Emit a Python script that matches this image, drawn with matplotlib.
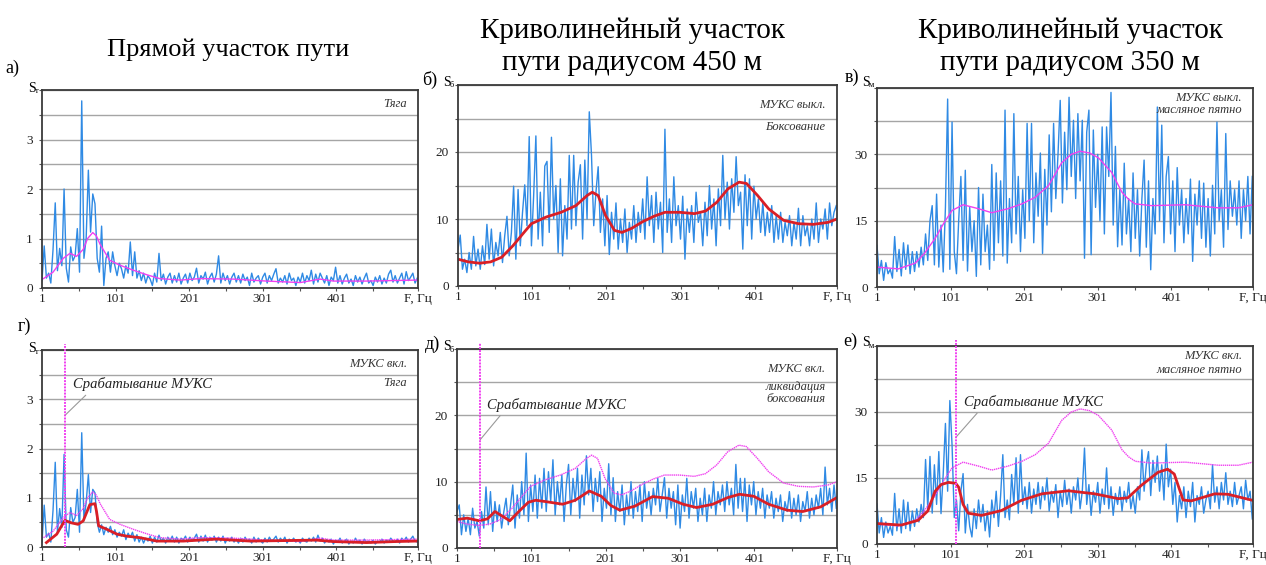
import matplotlib
matplotlib.use('Agg')
import matplotlib.pyplot as plt
import numpy as np

plt.rcParams['font.family'] = ['Liberation Serif', 'DejaVu Serif']

W, H = 1266, 565

# частотная сетка спектров, Гц
freq = np.arange(1, 512, 3)

# а) прямой участок, тяга (S_т)
s_a = [0.15, 0.85, 0.2, 0.3, 0.1, 0.78, 1.72, 0.35, 0.8, 0.45,
       2.0, 0.4, 0.12, 0.83, 0.55, 0.65, 1.2, 0.32, 3.78, 0.6,
       1.0, 2.38, 1.13, 1.9, 1.7, 0.6, 0.32, 1.25, 0.05, 0.6,
       0.73, 0.32, 0.73, 0.45, 0.25, 0.5, 0.39, 0.2, 0.45, 0.3,
       0.93, 0.25, 0.73, 0.2, 0.35, 0.15, 0.3, 0.1, 0.25, 0.18,
       0.05, 0.3, 0.12, 0.7, 0.15, 0.28, 0.08, 0.22, 0.3, 0.1,
       0.25, 0.12, 0.3, 0.08, 0.2, 0.28, 0.1, 0.3, 0.15, 0.22,
       0.4, 0.1, 0.25, 0.18, 0.32, 0.08, 0.22, 0.3, 0.12, 0.28,
       0.65, 0.1, 0.3, 0.15, 0.25, 0.08, 0.22, 0.3, 0.12, 0.25,
       0.1, 0.28, 0.15, 0.22, 0.05, 0.3, 0.12, 0.2, 0.25, 0.08,
       0.22, 0.3, 0.1, 0.25, 0.15, 0.28, 0.39, 0.1, 0.2, 0.12,
       0.25, 0.08, 0.3, 0.15, 0.2, 0.05, 0.22, 0.12, 0.3, 0.1,
       0.25, 0.15, 0.36, 0.08, 0.28, 0.12, 0.3, 0.2, 0.1, 0.25,
       0.05, 0.22, 0.15, 0.42, 0.1, 0.25, 0.08, 0.2, 0.28, 0.1,
       0.18, 0.05, 0.25, 0.12, 0.22, 0.08, 0.2, 0.3, 0.1, 0.15,
       0.05, 0.22, 0.12, 0.25, 0.08, 0.2, 0.1, 0.28, 0.36, 0.12,
       0.25, 0.1, 0.2, 0.3, 0.08, 0.33, 0.15, 0.22, 0.3, 0.1,
       0.2]
# огибающая (розовая) для тяги без МУКС
f_env_a = [3, 16, 30, 39, 48, 57, 63, 70, 75, 80, 93, 107, 125, 143, 161, 189, 216, 261, 306, 352, 379, 397, 442, 511]
env_a = [0.19, 0.32, 0.6, 0.7, 0.64, 0.78, 1.0, 1.12, 1.05, 0.88, 0.56, 0.46, 0.36, 0.27, 0.19, 0.16, 0.19, 0.18, 0.14, 0.11, 0.18, 0.14, 0.14, 0.16]

# б) кривая 450 м, боксование (S_б)
s_b = [5.5, 7.6, 2.5, 4.0, 2.0, 5.0, 2.5, 7.4, 3.0, 5.5,
       2.5, 6.0, 3.2, 9.2, 4.0, 8.5, 3.0, 6.5, 4.5, 8.0,
       3.5, 7.5, 10.4, 4.5, 8.0, 14.9, 4.0, 14.4, 6.0, 11.0,
       15.1, 9.0, 22.3, 6.0, 13.5, 22.4, 7.0, 14.0, 6.0, 17.9,
       18.6, 8.0, 22.2, 10.0, 15.0, 5.0, 16.0, 4.5, 12.0, 7.0,
       19.5, 8.5, 19.5, 9.0, 15.5, 18.1, 7.0, 18.8, 10.0, 26.0,
       19.5, 9.0, 14.0, 17.8, 8.0, 13.0, 6.0, 13.5, 4.7, 11.0,
       7.0, 12.4, 5.5, 10.0, 6.5, 11.5, 5.0, 9.5, 7.0, 12.0,
       6.5, 11.0, 8.0, 13.0, 7.0, 16.3, 9.0, 13.5, 6.5, 14.0,
       8.5, 12.5, 5.0, 23.4, 8.0, 13.0, 6.5, 16.3, 9.0, 12.0,
       7.0, 13.4, 4.0, 11.5, 8.0, 12.0, 6.5, 14.0, 9.5, 11.0,
       6.0, 12.5, 7.5, 15.0, 8.5, 13.0, 6.0, 14.5, 9.0, 19.5,
       10.0, 15.5, 8.5, 16.0, 11.0, 19.3, 12.0, 14.0, 5.5, 16.6,
       9.0, 16.0, 7.0, 14.9, 10.0, 13.0, 8.0, 12.5, 7.5, 11.0,
       8.0, 12.0, 6.5, 10.5, 7.0, 11.0, 6.5, 9.5, 7.5, 10.5,
       6.0, 9.5, 7.0, 11.6, 6.0, 10.5, 7.5, 9.0, 6.0, 10.0,
       7.0, 12.4, 6.5, 10.0, 8.5, 11.5, 7.0, 12.4, 9.0, 11.0,
       12.0]
f_env_b = [1, 15, 30, 45, 60, 75, 90, 100, 120, 140, 160, 175, 182, 190, 200, 212, 222, 235, 250, 265, 280, 300,
           320, 335, 350, 365, 380, 390, 405, 420, 440, 460, 480, 500, 512]
env_b = [4.0, 3.6, 3.4, 3.6, 4.3, 6.0, 8.0, 9.3, 10.3, 11.0, 12.0, 13.5, 14.0, 13.5, 10.5, 8.3, 8.0, 8.6, 9.6, 10.4, 11.0, 11.0,
         10.8, 11.2, 12.5, 14.5, 15.5, 15.3, 13.5, 11.5, 9.8, 9.3, 9.2, 9.5, 10.0]

# в) кривая 350 м, масляное пятно (S_м)
s_v = [9.4, 3.0, 6.0, 1.5, 5.5, 3.0, 4.0, 2.0, 11.4, 3.5,
       8.5, 2.5, 10.0, 4.0, 9.5, 3.0, 8.0, 3.5, 8.0, 4.5,
       9.0, 5.0, 12.0, 6.0, 15.0, 18.4, 5.0, 21.0, 4.5, 14.0,
       3.4, 18.0, 42.5, 4.0, 37.3, 8.0, 3.0, 15.0, 25.0, 6.0,
       26.4, 3.6, 18.0, 8.0, 15.0, 2.4, 22.5, 5.0, 21.0, 8.0,
       14.0, 4.0, 27.7, 6.0, 25.8, 10.0, 24.0, 7.0, 40.0, 5.4,
       20.0, 10.0, 39.2, 12.0, 25.0, 8.0, 22.0, 11.0, 37.0, 15.0,
       37.0, 10.0, 25.8, 16.0, 30.3, 7.6, 26.6, 14.0, 34.4, 17.0,
       37.0, 20.0, 30.0, 42.2, 19.0, 35.0, 22.0, 42.9, 25.0, 37.7,
       20.0, 39.2, 24.0, 37.7, 6.5, 35.0, 40.0, 7.3, 35.5, 18.0,
       30.0, 15.0, 36.2, 12.0, 36.2, 25.0, 44.0, 14.0, 31.8, 9.1,
       22.0, 9.5, 28.0, 12.0, 20.0, 8.0, 25.8, 11.0, 22.0, 7.0,
       20.0, 28.7, 9.0, 24.0, 3.9, 20.0, 12.0, 40.7, 15.0, 36.6,
       10.0, 25.0, 29.5, 12.0, 24.0, 8.0, 27.0, 14.0, 22.0, 10.0,
       20.0, 12.0, 24.4, 5.8, 21.0, 14.0, 24.0, 11.0, 23.5, 9.0,
       20.0, 7.0, 23.0, 12.0, 37.3, 15.0, 22.0, 9.0, 34.7, 13.0,
       24.0, 16.0, 22.0, 14.0, 24.0, 11.0, 22.0, 15.0, 25.0, 12.0,
       25.0]
f_env_v = [1, 30, 53, 65, 80, 92, 103, 118, 139, 157, 179, 198, 216, 234, 252, 265, 277, 290, 302, 320, 334, 343,
           352, 374, 420, 465, 492, 512]
env_v = [4.5, 4.1, 5.4, 7.5, 11.0, 14.5, 17.3, 18.6, 17.7, 16.8, 17.7, 18.8, 20.3, 22.9, 28.1, 30.0, 30.7, 30.3, 29.2, 25.9, 21.4, 19.8,
         18.8, 18.4, 18.6, 17.9, 17.9, 18.6]

# г) прямой участок, МУКС вкл.
s_g = [0.1, 0.85, 0.2, 0.28, 0.1, 0.75, 1.72, 0.3, 0.78, 0.4,
       1.88, 0.35, 0.2, 0.8, 0.5, 0.6, 1.17, 0.3, 2.32, 0.55,
       0.9, 1.47, 0.7, 1.17, 1.1, 0.5, 0.3, 0.45, 0.25, 0.4,
       0.3, 0.42, 0.25, 0.35, 0.2, 0.3, 0.22, 0.35, 0.15, 0.28,
       0.2, 0.3, 0.12, 0.25, 0.1, 0.2, 0.08, 0.18, 0.12, 0.22,
       0.08, 0.2, 0.1, 0.24, 0.12, 0.18, 0.08, 0.2, 0.12, 0.22,
       0.1, 0.2, 0.08, 0.18, 0.14, 0.22, 0.1, 0.2, 0.12, 0.18,
       0.26, 0.1, 0.22, 0.12, 0.24, 0.1, 0.2, 0.14, 0.22, 0.1,
       0.2, 0.12, 0.22, 0.08, 0.18, 0.12, 0.2, 0.1, 0.16, 0.08,
       0.18, 0.1, 0.2, 0.12, 0.16, 0.08, 0.2, 0.1, 0.18, 0.12,
       0.08, 0.18, 0.1, 0.2, 0.12, 0.16, 0.22, 0.1, 0.18, 0.12,
       0.2, 0.08, 0.16, 0.12, 0.18, 0.1, 0.15, 0.08, 0.18, 0.12,
       0.1, 0.18, 0.12, 0.2, 0.1, 0.24, 0.12, 0.18, 0.08, 0.15,
       0.1, 0.16, 0.06, 0.14, 0.1, 0.18, 0.08, 0.12, 0.16, 0.06,
       0.12, 0.08, 0.18, 0.1, 0.14, 0.06, 0.16, 0.1, 0.12, 0.08,
       0.14, 0.06, 0.12, 0.1, 0.16, 0.08, 0.14, 0.1, 0.18, 0.12,
       0.1, 0.16, 0.08, 0.18, 0.12, 0.2, 0.1, 0.16, 0.22, 0.12,
       0.1]
f_red_g = [7, 21, 32, 41, 50, 57, 66, 73, 75, 78, 89, 103, 116, 134, 157, 193, 238, 284, 330, 374, 397, 420, 442, 480, 510]
red_g = [0.09, 0.26, 0.54, 0.49, 0.46, 0.53, 0.86, 0.88, 0.73, 0.43, 0.36, 0.26, 0.22, 0.19, 0.12, 0.12, 0.16, 0.12, 0.13, 0.14,
         0.11, 0.1, 0.09, 0.11, 0.12]

# д) кривая 450 м, МУКС вкл.
s_d = [5.5, 6.5, 2.0, 5.0, 2.5, 4.5, 2.0, 6.0, 3.0, 4.0,
       1.8, 5.5, 3.0, 9.2, 3.5, 8.5, 2.5, 7.0, 4.0, 6.5,
       3.0, 5.5, 7.5, 3.5, 6.5, 9.5, 3.0, 8.0, 4.5, 10.0,
       5.0, 14.3, 4.0, 9.5, 5.5, 11.0, 4.5, 10.5, 6.0, 12.0,
       5.5, 11.5, 7.0, 13.3, 5.0, 10.0, 6.5, 11.0, 4.0, 9.5,
       12.6, 5.0, 10.5, 7.0, 12.0, 4.5, 11.0, 6.5, 13.9, 8.0,
       12.0, 5.5, 10.5, 7.0, 11.5, 4.0, 9.0, 6.0, 12.7, 5.0,
       10.6, 4.0, 8.5, 5.5, 9.5, 3.5, 8.0, 5.0, 10.0, 4.5,
       8.5, 5.5, 9.5, 4.0, 10.0, 6.0, 8.5, 5.0, 9.0, 6.5,
       10.5, 5.5, 8.0, 10.6, 4.5, 9.0, 6.0, 8.5, 3.5, 9.5,
       3.0, 8.0, 5.5, 10.5, 4.5, 8.5, 6.0, 9.0, 4.0, 7.5,
       5.0, 9.0, 4.0, 8.0, 6.0, 10.0, 5.0, 8.5, 6.5, 9.5,
       5.5, 10.0, 6.5, 9.0, 5.0, 12.6, 6.0, 10.5, 5.5, 10.5,
       4.0, 9.5, 6.5, 10.0, 5.0, 8.5, 6.0, 9.0, 4.5, 8.0,
       6.0, 8.5, 4.5, 7.5, 5.5, 8.0, 4.0, 7.0, 5.5, 8.5,
       4.5, 7.5, 5.0, 8.0, 4.0, 7.0, 5.5, 8.5, 4.5, 7.5,
       5.0, 8.0, 6.0, 9.0, 5.0, 12.2, 6.5, 9.0, 5.5, 9.5,
       6.0]
f_red_d = [1, 15, 31, 42, 52, 62, 72, 85, 97, 107, 120, 143, 160, 179, 195, 208, 220, 240, 264, 285, 305, 323, 345,
           365, 381, 400, 420, 445, 466, 490, 512]
red_d = [4.3, 4.5, 4.1, 4.4, 5.5, 4.8, 4.1, 5.6, 6.9, 7.2, 7.0, 6.6, 7.2, 8.6, 7.8, 6.4, 5.7, 6.3, 7.75, 7.5, 6.6, 6.1, 6.6,
         7.6, 8.1, 7.8, 6.6, 5.7, 5.5, 6.2, 7.6]

# е) кривая 350 м, МУКС вкл.
s_e = [9.1, 2.5, 6.0, 1.5, 5.0, 2.5, 4.0, 2.0, 11.5, 3.0,
       8.0, 2.5, 10.0, 3.5, 9.5, 3.0, 7.5, 4.0, 8.0, 5.0,
       9.0, 6.0, 19.2, 8.0, 19.9, 7.0, 18.0, 9.0, 21.0, 6.9,
       16.0, 27.4, 12.0, 32.6, 22.5, 6.0, 10.0, 3.0, 12.0, 16.0,
       2.5, 9.0, 4.0, 1.6, 8.0, 3.5, 10.0, 5.0, 9.0, 3.0,
       7.5, 1.6, 10.0, 6.0, 12.0, 4.0, 11.0, 20.3, 6.0, 10.0,
       5.5, 15.8, 9.0, 19.6, 7.0, 20.3, 9.0, 13.0, 8.0, 14.0,
       7.0, 12.5, 9.0, 14.0, 8.0, 13.0, 10.0, 15.0, 7.5, 12.0,
       9.5, 13.5, 6.0, 12.0, 8.5, 14.5, 9.0, 12.5, 7.0, 13.0,
       10.0, 15.0, 8.0, 12.0, 21.8, 9.0, 13.5, 6.5, 12.0, 9.5,
       14.0, 7.0, 12.5, 9.0, 17.3, 8.0, 13.0, 6.5, 11.5, 9.0,
       13.0, 7.5, 12.0, 9.5, 14.0, 8.0, 11.0, 7.0, 13.0, 10.0,
       21.4, 12.0, 18.0, 21.0, 11.0, 19.0, 14.0, 20.0, 12.0, 18.0,
       10.0, 22.7, 13.0, 17.0, 9.0, 14.0, 5.0, 11.0, 8.0, 13.0,
       6.0, 12.0, 8.5, 14.0, 5.0, 11.0, 9.0, 13.0, 7.0, 10.0,
       12.0, 8.0, 18.0, 9.5, 13.0, 8.0, 14.0, 10.0, 16.2, 9.0,
       12.0, 8.5, 14.0, 9.0, 11.0, 13.0, 8.0, 14.5, 10.0, 12.0,
       5.7]
f_red_e = [1, 34, 57, 70, 80, 88, 98, 108, 112, 118, 125, 143, 170, 197, 225, 261, 297, 329, 342, 360, 383, 396, 405,
           417, 428, 460, 478, 512]
red_e = [4.65, 4.3, 5.4, 7.5, 12.0, 13.5, 14.0, 13.8, 12.9, 9.0, 7.0, 6.5, 7.6, 9.9, 11.4, 12.1, 11.4, 10.3, 10.5, 13.3,
         16.3, 17.0, 15.9, 10.0, 9.8, 11.4, 11.3, 9.9]

# момент срабатывания МУКС, Гц
muks_g, muks_d, muks_e = 32, 32, 109

x_ticks = [1, 101, 201, 301, 401, 512]
x_labels = ['1', '101', '201', '301', '401', 'F, Гц']

BLUE = '#2f8ae4'
RED = '#d91f26'
MAG = '#f040f0'

fig = plt.figure(figsize=(W / 100, H / 100), dpi=100)


def fxy(x, y):
    return x / W, 1 - y / H


def make_ax(box, ymax, ystep, ymajor):
    l, t, r, b = box
    ax = fig.add_axes([l / W, 1 - b / H, (r - l) / W, (b - t) / H])
    ax.set_xlim(1, 512)
    ax.set_ylim(0, ymax)
    ax.set_yticks(ymajor)
    ax.set_yticks(np.arange(0, ymax + 0.001, ystep), minor=True)
    ax.set_xticks(x_ticks)
    ax.set_xticklabels(x_labels)
    ax.set_xticks([51, 151, 251, 351, 451], minor=True)
    ax.grid(axis='y', which='both', color='#a5a5a5', lw=1.0)
    ax.set_axisbelow(True)
    ax.tick_params(which='both', direction='out', length=2.5, width=0.8, color='#555555',
                   labelsize=9.5, labelcolor='#222222')
    ax.tick_params(axis='x', pad=1)
    ax.tick_params(axis='y', pad=4)
    for sp in ax.spines.values():
        sp.set_color('#3a3a3a')
        sp.set_linewidth(1.3)
    return ax


def ylab(x, y, sub):
    fig.text(*fxy(x, y), 'S', fontsize=10, ha='left', va='center')
    fig.text(*fxy(x + 7, y + 3), sub, fontsize=6, ha='left', va='center')


def note(ax, lines):
    for (txt, y) in lines:
        ax.text(0.97, y, txt, transform=ax.transAxes, ha='right', va='center',
                fontsize=9, style='italic', color='#333333')


def muks(ax, f0, y_hit, x_txt, y_txt):
    ax.axvline(f0, ymin=0, ymax=1.03, color=MAG, lw=1.4, ls=(0, (1, 0.6)), clip_on=False, zorder=4)
    ax.annotate('Срабатывание МУКС', xy=(f0, y_hit), xytext=(x_txt, y_txt),
                fontsize=10.5, style='italic', color='#222222', va='center', ha='left',
                arrowprops=dict(arrowstyle='-', color='#999999', lw=0.8, shrinkA=1, shrinkB=0,
                                relpos=(0.12, 0.0)))


# --- а)
ax = make_ax((42, 90, 418, 288), 4, 0.5, [0, 1, 2, 3])
ax.plot(freq, s_a, color=BLUE, lw=1.0)
ax.plot(f_env_a, env_a, color=MAG, lw=1.0)
note(ax, [('Тяга', 0.93)])

# --- б)
ax = make_ax((458, 85, 837, 286), 30, 5, [0, 10, 20])
ax.plot(freq, s_b, color=BLUE, lw=1.0)
ax.plot(f_env_b, env_b, color=RED, lw=2.0)
note(ax, [('МУКС выкл.', 0.9), ('Боксование', 0.79)])

# --- в)
ax = make_ax((877, 88, 1253, 287), 45, 7.5, [0, 15, 30])
ax.plot(freq, s_v, color=BLUE, lw=1.0)
ax.plot(f_env_v, env_v, color=MAG, lw=1.0)
note(ax, [('МУКС выкл.', 0.95), ('масляное пятно', 0.89)])

# --- г)
ax = make_ax((42, 350, 418, 547), 4, 0.5, [0, 1, 2, 3])
ax.plot(freq, s_g, color=BLUE, lw=1.0)
ax.plot(f_env_a, env_a, color=MAG, lw=1.0, ls=(0, (1, 0.5)))
ax.plot(f_red_g, red_g, color=RED, lw=2.0)
note(ax, [('МУКС вкл.', 0.93), ('Тяга', 0.83)])
muks(ax, muks_g, 2.67, 43, 3.3)

# --- д)
ax = make_ax((457, 349, 837, 548), 30, 5, [0, 10, 20])
ax.plot(freq, s_d, color=BLUE, lw=1.0)
ax.plot(f_env_b, env_b, color=MAG, lw=1.0, ls=(0, (1, 0.5)))
ax.plot(f_red_d, red_d, color=RED, lw=2.0)
note(ax, [('МУКС вкл.', 0.9), ('ликвидация', 0.81), ('боксования', 0.75)])
muks(ax, muks_d, 16.3, 41, 21.6)

# --- е)
ax = make_ax((877, 346, 1253, 544), 45, 7.5, [0, 15, 30])
ax.plot(freq, s_e, color=BLUE, lw=1.0)
ax.plot(f_env_v, env_v, color=MAG, lw=1.0, ls=(0, (1, 0.5)))
ax.plot(f_red_e, red_e, color=RED, lw=2.0)
note(ax, [('МУКС вкл.', 0.95), ('масляное пятно', 0.88)])
muks(ax, muks_e, 24.4, 119, 32.2)

# заголовки колонок
fig.text(*fxy(228, 50), 'Прямой участок пути', fontsize=19, ha='center', va='center')
fig.text(*fxy(632, 47), 'Криволинейный участок\nпути радиусом 450 м', fontsize=21, ha='center', va='center',
         linespacing=1.3)
fig.text(*fxy(1070, 47), 'Криволинейный участок\nпути радиусом 350 м', fontsize=21, ha='center', va='center',
         linespacing=1.3)

# метки панелей
for (x, y, t) in [(5, 68, 'а)'), (422, 80, 'б)'), (845, 77, 'в)'),
                  (18, 326, 'г)'), (425, 344, 'д)'), (843, 341, 'е)')]:
    fig.text(*fxy(x, y), t, fontsize=13, ha='left', va='center')

ylab(28, 88, 'т')
ylab(443, 82, 'б')
ylab(862, 82, 'м')
ylab(28, 349, 'т')
ylab(443, 347, 'б')
ylab(862, 343, 'м')

fig.savefig('out.png', dpi=100)
